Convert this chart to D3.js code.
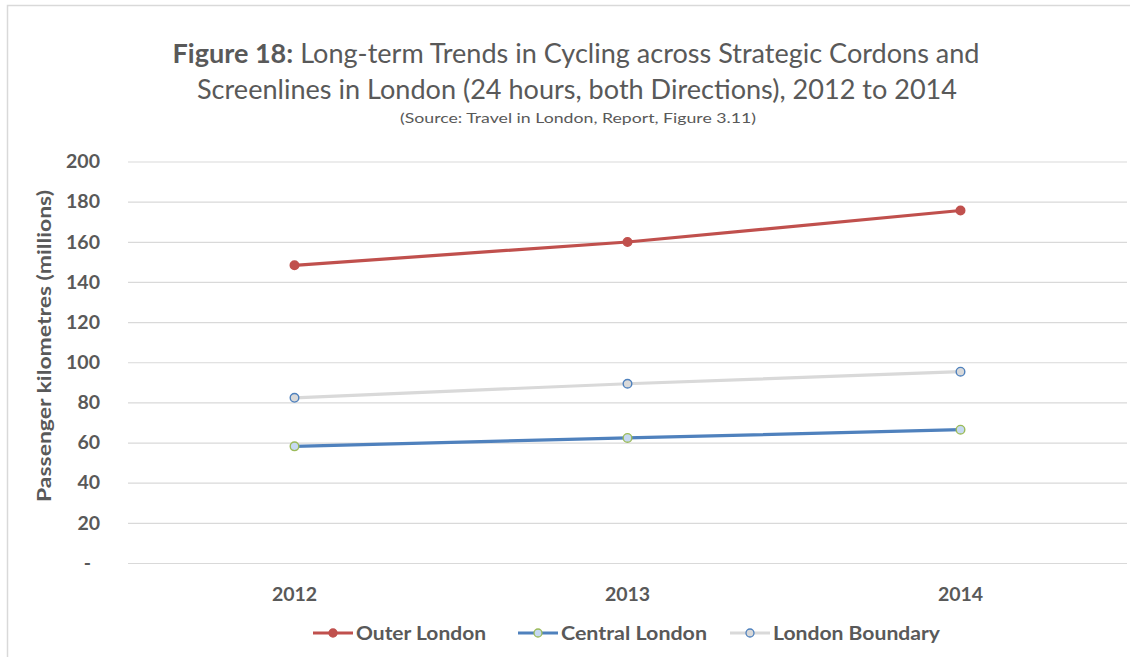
<!DOCTYPE html>
<html>
<head>
<meta charset="utf-8">
<script src="https://cdn.jsdelivr.net/npm/d3@7"></script>
<style>
  body { margin: 0; background: #fff; }
  svg { display: block; font-family: Lato, "Open Sans", sans-serif; }
</style>
</head>
<body>
<svg id="chart" width="1130" height="657"></svg>
<script>
// data
var years = ["2012", "2013", "2014"];
var outerLondon = [148.3, 159.9, 175.6];
var centralLondon = [58.1, 62.3, 66.4];
var londonBoundary = [82.3, 89.3, 95.3];
var yTicks = [0, 20, 40, 60, 80, 100, 120, 140, 160, 180, 200];

var series = [
  {name: "Outer London", values: outerLondon, line: "#c0504d", fill: "#c0504d", stroke: "#c0504d"},
  {name: "Central London", values: centralLondon, line: "#4f81bd", fill: "#c6d9f1", stroke: "#9bbb59"},
  {name: "London Boundary", values: londonBoundary, line: "#d9d9d9", fill: "#d9d9d9", stroke: "#4f81bd"}
];

var svg = d3.select("#chart");
var textCol = "#595959";

// outer frame
svg.append("rect")
  .attr("x", 7.5).attr("y", 5.5)
  .attr("width", 1140).attr("height", 670)
  .attr("fill", "none").attr("stroke", "#d9d9d9").attr("stroke-width", 1.5);

// title
var t1 = svg.append("text").attr("x", 576).attr("y", 63)
  .attr("text-anchor", "middle").attr("fill", textCol).attr("font-size", 26)
  .attr("textLength", 807).attr("lengthAdjust", "spacingAndGlyphs");
t1.append("tspan").attr("font-weight", "bold").text("Figure 18:");
t1.append("tspan").text(" Long-term Trends in Cycling across Strategic Cordons and");

svg.append("text").attr("x", 577).attr("y", 99)
  .attr("text-anchor", "middle").attr("fill", textCol).attr("font-size", 26)
  .attr("textLength", 760).attr("lengthAdjust", "spacingAndGlyphs")
  .text("Screenlines in London (24 hours, both Directions), 2012 to 2014");

svg.append("text").attr("x", 578).attr("y", 123)
  .attr("text-anchor", "middle").attr("fill", textCol).attr("font-size", 14)
  .attr("textLength", 356).attr("lengthAdjust", "spacingAndGlyphs")
  .text("(Source: Travel in London,  Report, Figure 3.11)");

// scales
var x = d3.scaleBand().domain(years).range([128, 1127]);
var y = d3.scaleLinear().domain([0, 200]).range([563, 161.5]);
var cx = function(d, i) { return x(years[i]) + x.bandwidth() / 2; };

// grid + y axis
var yAxis = d3.axisLeft(y).tickValues(yTicks)
  .tickSize(-(1127 - 128))
  .tickPadding(28)
  .tickFormat(function(d) { return d === 0 ? "-" : d; });
var gy = svg.append("g").attr("transform", "translate(128,0)").call(yAxis);
gy.select(".domain").remove();
gy.selectAll(".tick line").attr("stroke", "#d9d9d9").attr("stroke-width", 1.2);
gy.selectAll(".tick text")
  .attr("fill", textCol).attr("font-size", 19.5).attr("font-weight", "bold")
  .attr("font-family", "Lato, sans-serif");
gy.selectAll(".tick text").filter(function(d) { return d === 0; }).attr("dx", -9);

// x axis
var xAxis = d3.axisBottom(x).tickSize(0).tickPadding(24);
var gx = svg.append("g").attr("transform", "translate(0,563)").call(xAxis);
gx.select(".domain").remove();
gx.selectAll(".tick text")
  .attr("fill", textCol).attr("font-size", 19.5).attr("font-weight", "bold")
  .attr("font-family", "Lato, sans-serif");

// y title
svg.append("text")
  .attr("transform", "translate(51,346) rotate(-90)")
  .attr("text-anchor", "middle").attr("fill", textCol)
  .attr("font-size", 18).attr("font-weight", "bold")
  .attr("textLength", 312).attr("lengthAdjust", "spacingAndGlyphs")
  .text("Passenger kilometres (millions)");

// lines
var line = d3.line().x(cx).y(function(d) { return y(d); });
series.forEach(function(s) {
  svg.append("path").datum(s.values)
    .attr("d", line).attr("fill", "none")
    .attr("stroke", s.line).attr("stroke-width", 3.2);
});
series.forEach(function(s) {
  svg.selectAll(null).data(s.values).enter().append("circle")
    .attr("cx", cx).attr("cy", function(d) { return y(d); })
    .attr("r", 4.3).attr("fill", s.fill)
    .attr("stroke", s.stroke).attr("stroke-width", 1.4);
});

// legend
var legendX = [313, 518, 730];
var legendW = [130, 146, 167];
series.forEach(function(s, i) {
  var g = svg.append("g").attr("transform", "translate(" + legendX[i] + ",633)");
  g.append("line").attr("x1", 0).attr("x2", 40).attr("y1", 0).attr("y2", 0)
    .attr("stroke", s.line).attr("stroke-width", 3.2);
  g.append("circle").attr("cx", 20).attr("cy", 0).attr("r", 4)
    .attr("fill", s.fill).attr("stroke", s.stroke).attr("stroke-width", 1.3);
  g.append("text").attr("x", 43).attr("y", 6.5)
    .attr("fill", textCol).attr("font-size", 19).attr("font-weight", "bold")
    .attr("textLength", legendW[i]).attr("lengthAdjust", "spacingAndGlyphs")
    .text(s.name);
});
</script>
</body>
</html>
